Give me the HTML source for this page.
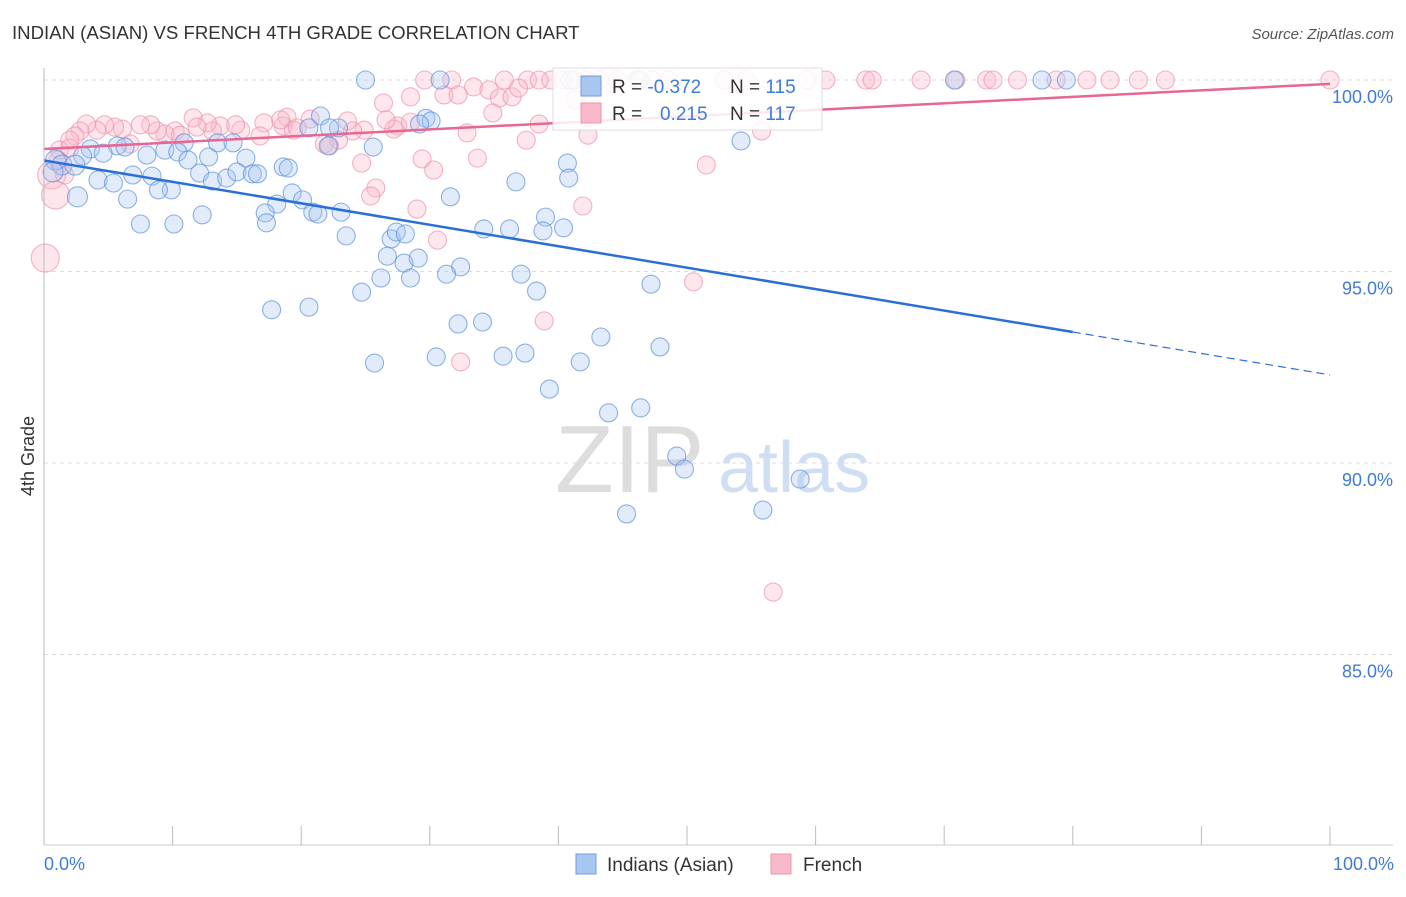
<!DOCTYPE html>
<html><head><meta charset="utf-8"><style>
body{margin:0;background:#fff;font-family:"Liberation Sans",sans-serif;}
svg text{font-family:"Liberation Sans",sans-serif;}
</style></head><body>
<svg id="chart" width="1406" height="892" viewBox="0 0 1406 892" xmlns="http://www.w3.org/2000/svg">
<text x="12" y="39" font-size="18.6" fill="#333">INDIAN (ASIAN) VS FRENCH 4TH GRADE CORRELATION CHART</text>
<text x="1394" y="39" font-size="15" fill="#555" text-anchor="end" font-style="italic">Source: ZipAtlas.com</text>
<g id="grid"></g>
<text x="555" y="492" font-size="96" fill="#ddd" font-family="Liberation Serif">ZIP</text>
<text x="718" y="492" font-size="72" fill="#cfdff3">atlas</text>
<g id="pts"></g>
<g id="trend"></g>
<g id="axes"></g>
<text transform="translate(34,456) rotate(-90)" font-size="18" fill="#333" text-anchor="middle">4th Grade</text>
<text x="44" y="870" font-size="18" fill="#3f7bd8">0.0%</text>
<text x="1394" y="870" font-size="18" fill="#3f7bd8" text-anchor="end">100.0%</text>
<g>
<rect x="553" y="68" width="269" height="62" fill="#fff" fill-opacity="0.85" stroke="#ddd"/>
<rect x="581" y="76" width="20" height="20" fill="#a9c6f0" stroke="#6f9ee0"/>
<rect x="581" y="103" width="20" height="20" fill="#f8b9cb" stroke="#ee93ae"/>
<text x="612" y="93" font-size="19" fill="#333">R = <tspan fill="#3f7bd8">-0.372</tspan><tspan x="730">N = </tspan><tspan fill="#3f7bd8">115</tspan></text>
<text x="612" y="120" font-size="19" fill="#333">R = <tspan x="660" fill="#3f7bd8">0.215</tspan><tspan x="730">N = </tspan><tspan fill="#3f7bd8">117</tspan></text>
</g>
<g>
<rect x="576" y="854" width="20" height="20" fill="#a9c6f0" stroke="#6f9ee0"/>
<text x="607" y="871" font-size="19" fill="#333">Indians (Asian)</text>
<rect x="771" y="854" width="20" height="20" fill="#f8b9cb" stroke="#ee93ae"/>
<text x="803" y="871" font-size="19" fill="#333">French</text>
</g>
</svg>
<script>
const yTicks=[100,95,90,85];
const yTickLabels=["100.0%","95.0%","90.0%","85.0%"];
const blueX=[25.0,30.8,70.8,77.6,79.5,40.9,46.3,21.5,29.7,30.1,29.2,54.2,13.5,14.7,10.9,20.6,22.9,22.2,25.6,22.1,3.6,5.7,6.3,4.6,3.0,8.0,9.4,10.4,12.8,11.2,15.7,0.9,1.4,2.4,0.7,4.2,5.4,6.9,8.4,9.9,8.9,6.5,2.6,12.1,13.1,14.2,15.0,16.2,16.6,18.6,19.0,19.3,20.1,18.1,17.2,17.3,20.9,21.3,23.1,7.5,10.1,12.3,23.5,27.0,27.4,28.1,31.6,36.7,40.7,40.8,39.0,38.8,40.4,34.2,36.2,26.7,28.0,29.1,32.4,31.3,26.2,28.5,37.1,38.3,24.7,47.2,17.7,20.6,32.2,34.1,30.5,25.7,35.7,37.4,41.7,43.3,47.9,39.3,43.9,46.4,49.2,49.8,45.3,55.9,58.8];
const blueY=[100,100,100,100,100,100,100,99.06,99.0,98.93,98.85,98.41,98.36,98.36,98.36,98.75,98.75,98.75,98.25,98.28,98.2,98.28,98.25,98.09,98.02,98.04,98.17,98.12,97.99,97.91,97.96,97.91,97.78,97.78,97.6,97.39,97.31,97.52,97.49,97.13,97.13,96.89,96.95,97.57,97.36,97.44,97.6,97.55,97.55,97.73,97.7,97.05,96.87,96.76,96.53,96.27,96.55,96.5,96.55,96.24,96.24,96.48,95.93,95.85,96.03,95.98,96.95,97.34,97.83,97.44,96.42,96.06,96.14,96.11,96.11,95.4,95.22,95.35,95.12,94.93,94.83,94.83,94.93,94.49,94.46,94.67,94.0,94.07,93.63,93.68,92.77,92.61,92.79,92.87,92.64,93.29,93.03,91.93,91.31,91.44,90.18,89.84,88.67,88.77,89.58];
const pinkX=[29.6,31.7,35.8,37.6,39.4,42.1,43.2,44.6,46.1,47.3,48.6,52.9,54.6,59.3,60.8,63.9,64.4,68.2,70.9,73.3,73.8,75.7,78.7,81.1,82.9,85.1,87.2,100,38.5,40.4,41.2,28.5,33.4,34.6,35.4,36.4,36.9,26.4,31.1,32.2,41.3,42.3,55.8,42.5,34.9,38.5,37.5,27.5,27.2,28.5,26.6,24.9,24.0,23.6,22.9,21.8,22.2,20.7,18.9,18.6,19.4,19.7,18.4,17.1,16.8,15.3,14.9,13.7,13.1,12.7,11.6,11.9,10.2,10.6,9.4,8.8,8.3,7.5,6.7,6.1,5.5,4.7,4.1,3.3,2.8,2.4,2.0,1.2,0.6,0.9,0.1,32.9,29.4,33.7,30.3,24.7,25.8,25.4,29.0,30.6,41.9,51.5,50.5,38.9,32.4,56.7,1.6,2.0,1.1];
const pinkY=[100,100,100,100,100,100,100,100,100,100,100,100,100,100,100,100,100,100,100,100,100,100,100,100,100,100,100,100,100,100,100,99.56,99.82,99.74,99.53,99.56,99.79,99.4,99.61,99.61,99.48,98.56,98.67,99.37,99.14,98.85,98.43,98.8,98.72,98.9,98.96,98.69,98.67,98.93,98.43,98.33,98.28,98.98,99.03,98.8,98.69,98.75,98.96,98.88,98.54,98.69,98.83,98.8,98.67,98.88,99.01,98.77,98.67,98.56,98.59,98.67,98.83,98.83,98.33,98.72,98.77,98.83,98.69,98.85,98.67,98.54,98.43,98.17,97.52,97.0,95.35,98.62,97.94,97.96,97.65,97.83,97.18,96.97,96.63,95.82,96.71,97.78,94.73,93.71,92.64,86.63,97.52,98.22,97.91];
const bigPink=[0.6,0.9,0.1];
const blueTrend=[97.9,92.3]; // y at x=0 and x=100
const pinkTrend=[98.2,99.9];
const blueSolidEnd=80;

const NS="http://www.w3.org/2000/svg";
const X0=44,X1=1330,Y100=80,PX_PER=38.3;
const sx=v=>X0+(X1-X0)*v/100;
const sy=v=>Y100+(100-v)*PX_PER;
function mk(tag,attrs,parent){const e=document.createElementNS(NS,tag);for(const k in attrs)e.setAttribute(k,attrs[k]);parent.appendChild(e);return e;}
const grid=document.getElementById('grid'),axes=document.getElementById('axes'),pts=document.getElementById('pts'),trend=document.getElementById('trend');
yTicks.forEach((t,i)=>{
  const l=mk('line',{x1:X0,x2:1393,y1:sy(t),y2:sy(t),stroke:'#ddd','stroke-dasharray':'4,4'},grid);
  
  
  const tx=mk('text',{x:1393,y:sy(t)+23,'font-size':18,fill:'#3f7bd8','text-anchor':'end'},axes);
  tx.textContent=yTickLabels[i];
  
  
});
const ax=mk('line',{x1:X0,x2:X0,y1:68,y2:845,stroke:'#bbb'},axes);


const bx=mk('line',{x1:X0,x2:1393,y1:845,y2:845,stroke:'#ccc'},axes);


for(let i=0;i<=10;i++){
  const t=mk('line',{x1:sx(i*10),x2:sx(i*10),y1:826,y2:845,stroke:'#bbb'},axes);
  
  
}
function dot(x,y,r,fill,stroke,name){
  const c=mk('circle',{cx:sx(x),cy:sy(y),r:r,fill:fill,'fill-opacity':0.35,stroke:stroke,'stroke-opacity':0.7,'stroke-width':1.1},pts);
  
  
}
pinkX.forEach((x,i)=>dot(x,pinkY[i],bigPink.includes(x)?14:9,'#f8b9cb','#ee93ae','french-point'));
blueX.forEach((x,i)=>dot(x,blueY[i],x<3?10:9,'#a9c6f0','#5d93dc','indians-point'));
const ty=(tr,x)=>tr[0]+(tr[1]-tr[0])*x/100;
let l1=mk('line',{x1:sx(0),y1:sy(ty(blueTrend,0)),x2:sx(blueSolidEnd),y2:sy(ty(blueTrend,blueSolidEnd)),stroke:'#2a6fd6','stroke-width':2.5},trend);


let l2=mk('line',{x1:sx(blueSolidEnd),y1:sy(ty(blueTrend,blueSolidEnd)),x2:sx(100),y2:sy(ty(blueTrend,100)),stroke:'#2a6fd6','stroke-width':1.2,'stroke-dasharray':'8,5'},trend);


let l3=mk('line',{x1:sx(0),y1:sy(ty(pinkTrend,0)),x2:sx(100),y2:sy(ty(pinkTrend,100)),stroke:'#e8668f','stroke-width':2.5},trend);


</script>
</body></html>
